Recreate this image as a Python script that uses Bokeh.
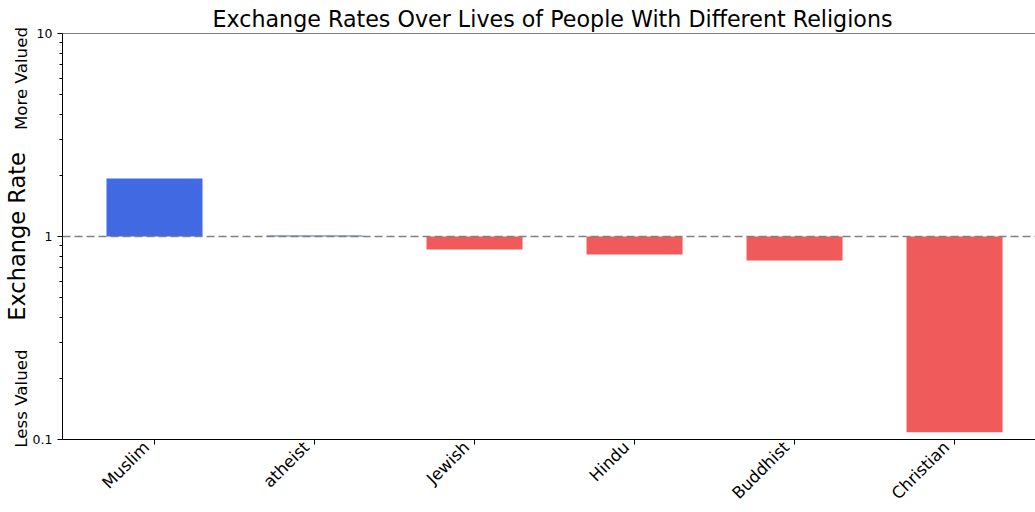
import math
from bokeh.plotting import figure
from bokeh.models import Range1d, FixedTicker, Span, LogAxis, LinearAxis
from bokeh.embed import file_html
from bokeh.resources import INLINE

categories = ["Muslim", "atheist", "Jewish", "Hindu", "Buddhist", "Christian"]
rates = [1.93, 1.01, 0.863, 0.815, 0.762, 0.1086]
y_ticks = [0.1, 1, 10]
y_tick_labels = ["0.1", "1", "10"]
side_notes = ["More Valued", "Less Valued"]
side_note_y = [6.0, 0.159]

FONT = "DejaVu Sans"
BLUE = "#4169E1"
RED = "#F05A5A"
LABEL_SHIFT = 0.05  # right-aligned rotated labels (matplotlib style)

xs = list(range(len(categories)))
colors = [BLUE if r >= 1 else RED for r in rates]

p = figure(width=1035, height=512, output_backend="svg", toolbar_location=None,
           y_axis_type="log", x_range=Range1d(-0.575, 5.506), y_range=Range1d(0.1, 10),
           min_border_left=62, min_border_right=0, min_border_top=33, min_border_bottom=73)
p.outline_line_color = None
p.xgrid.visible = False
p.ygrid.visible = False

p.title.text = "Exchange Rates Over Lives of People With Different Religions"
p.title.text_font = FONT
p.title.text_font_size = "22.2px"
p.title.text_font_style = "normal"
p.title.text_color = "black"
p.title.align = "left"
p.title.offset = 150
p.title.standoff = 3

p.vbar(x=xs, top=rates, bottom=1, width=0.6, fill_color=colors, line_color=None)

p.add_layout(Span(location=1, dimension="width", line_color="gray", line_dash="8 4", line_width=1.5))
p.add_layout(Span(location=10, dimension="width", line_color="black", line_width=1))

minor = [m * 10.0 ** e for e in (-1, 0) for m in range(2, 10)]
p.yaxis.ticker = FixedTicker(ticks=y_ticks, minor_ticks=minor)
p.yaxis.major_label_overrides = {t: l for t, l in zip(y_ticks, y_tick_labels)}
p.xaxis.ticker = FixedTicker(ticks=xs)
p.xaxis.major_label_overrides = {i: "" for i in xs}

for ax in (p.xaxis, p.yaxis):
    ax.axis_line_color = "black"
    ax.axis_line_width = 1
    ax.major_tick_line_color = "black"
    ax.minor_tick_line_color = "black"
    ax.major_tick_in = 0
    ax.major_tick_out = 5
    ax.minor_tick_in = 0
    ax.minor_tick_out = 3
    ax.major_label_text_font = FONT
    ax.major_label_text_color = "black"

p.xaxis.minor_tick_line_color = None
p.xaxis.major_label_text_font_size = "0px"
p.xaxis.major_label_standoff = 0
p.yaxis.major_label_text_font_size = "12.5px"
p.yaxis.major_label_standoff = 5

# category labels, rotated and ending at their ticks
label_pos = [x - LABEL_SHIFT for x in xs]
xlab = LinearAxis(ticker=FixedTicker(ticks=label_pos, minor_ticks=[]),
                  major_label_overrides={v: c for v, c in zip(label_pos, categories)})
xlab.axis_line_color = None
xlab.major_tick_line_color = None
xlab.minor_tick_line_color = None
xlab.major_tick_in = 0
xlab.major_tick_out = 0
xlab.major_label_orientation = math.pi / 4
xlab.major_label_standoff = 0
xlab.major_label_text_font = FONT
xlab.major_label_text_font_size = "16.5px"
xlab.major_label_text_color = "black"
p.add_layout(xlab, "below")

# outer axis carrying the side notes and the axis title
outer = LogAxis(ticker=FixedTicker(ticks=side_note_y, minor_ticks=[]),
                major_label_overrides={v: t for v, t in zip(side_note_y, side_notes)})
outer.axis_line_color = None
outer.major_tick_line_color = None
outer.minor_tick_line_color = None
outer.major_tick_in = 0
outer.major_tick_out = 0
outer.major_label_orientation = "parallel"
outer.major_label_standoff = -2
outer.major_label_text_font = FONT
outer.major_label_text_font_size = "16.7px"
outer.major_label_text_color = "black"
outer.axis_label = "Exchange Rate"
outer.axis_label_text_font = FONT
outer.axis_label_text_font_size = "22.5px"
outer.axis_label_text_font_style = "normal"
outer.axis_label_text_color = "black"
outer.axis_label_standoff = -21
p.add_layout(outer, "left")

open("out.html", "w").write(file_html(p, INLINE))
